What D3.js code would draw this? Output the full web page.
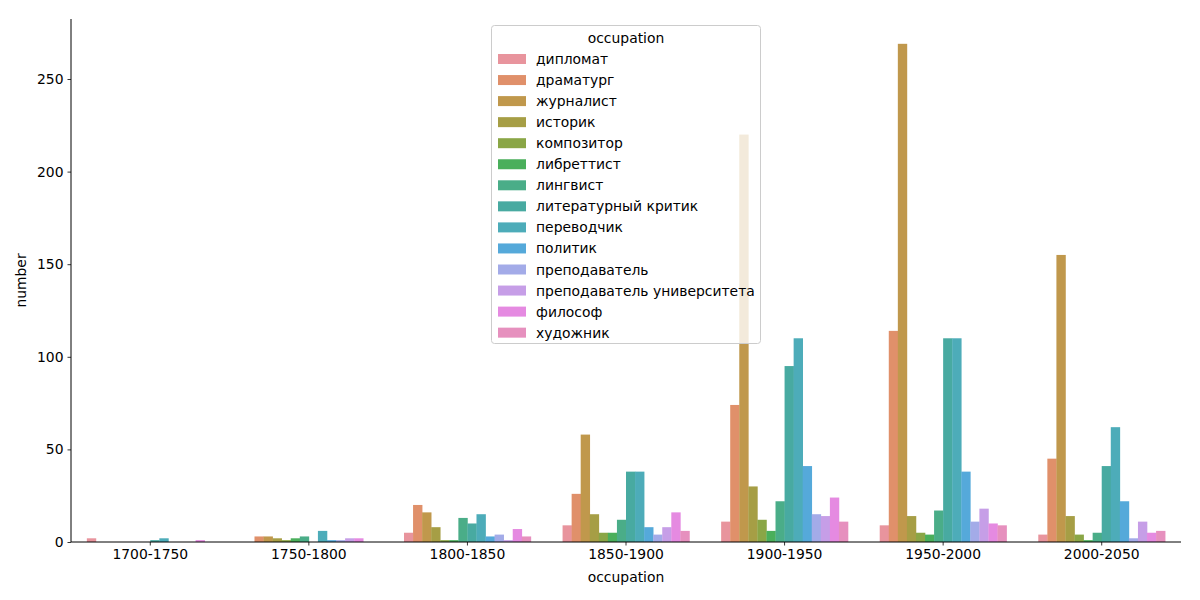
<!DOCTYPE html>
<html><head><meta charset="utf-8">
<script src="https://cdn.jsdelivr.net/npm/d3@7"></script>
<style>body{margin:0;background:#fff;}svg{display:block;font-family:"DejaVu Sans",sans-serif;}</style>
</head><body><svg id="c" width="1200" height="600"></svg>
<script>
const periods = ["1700-1750","1750-1800","1800-1850","1850-1900","1900-1950","1950-2000","2000-2050"];
const occupations = ["дипломат","драматург","журналист","историк","композитор","либреттист","лингвист","литературный критик","переводчик","политик","преподаватель","преподаватель университета","философ","художник"];
const colors = ["#e8949d","#e0906a","#c0984c","#a69e45","#8aa646","#4aaf5b","#4aad88","#48aaa1","#4dacb9","#55a9da","#a3abe8","#c69ee7","#e58ae1","#e690be"];
// values per occupation, across periods
const v_diplomat   = [2,0,5,9,11,9,4];
const v_dramatist  = [0,3,20,26,74,114,45];
const v_journalist = [0,3,16,58,220,269,155];
const v_historian  = [0,2,8,15,30,14,14];
const v_composer   = [0,1,1,5,12,5,4];
const v_librettist = [0,2,1,5,6,4,1];
const v_linguist   = [0,3,13,12,22,17,5];
const v_critic     = [1,0,10,38,95,110,41];
const v_translator = [2,6,15,38,110,110,62];
const v_politician = [0,1,3,8,41,38,22];
const v_teacher    = [0,1,4,4,15,11,2];
const v_professor  = [0,2,1,8,14,18,11];
const v_philosopher= [1,2,7,16,24,10,5];
const v_artist     = [0,0,3,6,11,9,6];
const series = [v_diplomat,v_dramatist,v_journalist,v_historian,v_composer,v_librettist,v_linguist,v_critic,v_translator,v_politician,v_teacher,v_professor,v_philosopher,v_artist];
const yTicks = [0,50,100,150,200,250];

const svg = d3.select("#c");
const L=71,R=1181,T=19,B=542;
const x = d3.scaleBand().domain(periods).range([L,R]).paddingInner(0.2).paddingOuter(0.1);
const xs = d3.scaleBand().domain(occupations).range([0,x.bandwidth()]);
const y = d3.scaleLinear().domain([0,282.4]).range([B,T]);

const data=[];
series.forEach((s,i)=>s.forEach((v,j)=>data.push({p:periods[j],o:occupations[i],v,c:colors[i]})));
svg.append("g").selectAll("rect").data(data).join("rect")
  .attr("x",d=>x(d.p)+xs(d.o)).attr("width",xs.bandwidth()+0.3)
  .attr("y",d=>y(d.v)).attr("height",d=>B-y(d.v)).attr("fill",d=>d.c);

const fs="13.9px";
const gx=svg.append("g").attr("transform",`translate(0,${B})`).call(d3.axisBottom(x).tickSize(3.5).tickPadding(4));
const gy=svg.append("g").attr("transform",`translate(${L},0)`).call(d3.axisLeft(y).tickValues(yTicks).tickSize(3.5).tickPadding(4));
[gx,gy].forEach(g=>{g.selectAll("text").attr("font-size",fs).attr("font-family","DejaVu Sans").attr("fill","#000");
  g.selectAll("line").attr("stroke","#000").attr("stroke-width",0.8);
  g.select(".domain").attr("stroke","#000").attr("stroke-width",1).attr("d", g===gx?`M${L},0H${R}`:`M0,${B}V${T}`);});
svg.append("text").attr("x",(L+R)/2).attr("y",582).attr("text-anchor","middle").attr("font-size",fs).text("occupation");
svg.append("text").attr("transform",`translate(26,${(T+B)/2}) rotate(-90)`).attr("text-anchor","middle").attr("font-size",fs).text("number");

// legend
const lg=svg.append("g");
lg.append("rect").attr("x",491.5).attr("y",25.5).attr("width",269).attr("height",318).attr("rx",3)
  .attr("fill","#fff").attr("fill-opacity",0.8).attr("stroke","#cccccc").attr("stroke-width",1);
lg.append("text").attr("x",626).attr("y",43).attr("text-anchor","middle").attr("font-size",fs).text("occupation");
occupations.forEach((o,i)=>{
  const yy=59+i*21.05;
  lg.append("rect").attr("x",498).attr("y",yy-5).attr("width",28).attr("height",10).attr("fill",colors[i]);
  lg.append("text").attr("x",536).attr("y",yy+5).attr("font-size",fs).text(o);
});
</script></body></html>
